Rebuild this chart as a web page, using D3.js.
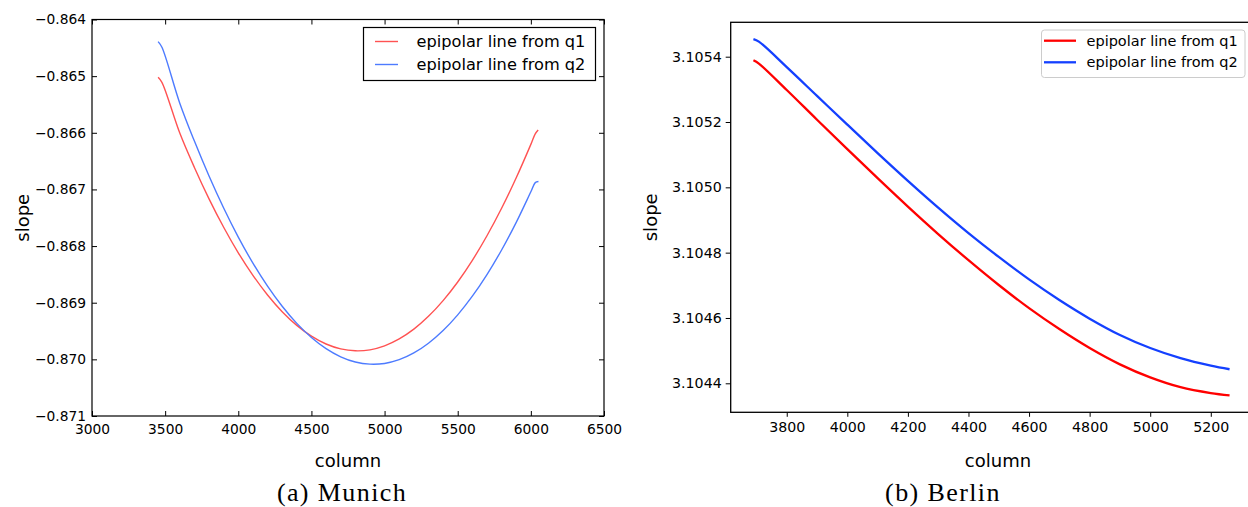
<!DOCTYPE html>
<html>
<head>
<meta charset="utf-8">
<script src="https://cdn.jsdelivr.net/npm/d3@7"></script>
<style>
  html, body { margin: 0; padding: 0; background: #fff; }
  svg { display: block; }
  text { font-family: "DejaVu Sans", sans-serif; }
</style>
</head>
<body>
<svg id="chart" width="1248" height="507"></svg>
<script>
// ---------- Data: (a) Munich ----------
const munichColumnsQ1 = [3452, 3478, 3600, 3700, 3800, 3900, 4000, 4100, 4200, 4300, 4400, 4500, 4600, 4700, 4800, 4900, 5000, 5100, 5200, 5300, 5400, 5500, 5600, 5700, 5800, 5900, 6000, 6030, 6050];
const munichSlopeQ1   = [-0.865020, -0.865110, -0.866005, -0.866612, -0.867166, -0.867668, -0.868119, -0.868517, -0.868863, -0.869158, -0.869400, -0.869590, -0.869729, -0.869815, -0.869849, -0.869832, -0.869762, -0.869640, -0.869467, -0.869241, -0.868963, -0.868634, -0.868252, -0.867818, -0.867333, -0.866795, -0.866205, -0.866018, -0.865950];
const munichColumnsQ2 = [3452, 3478, 3600, 3700, 3800, 3900, 4000, 4100, 4200, 4300, 4400, 4500, 4600, 4700, 4800, 4900, 5000, 5100, 5200, 5300, 5400, 5500, 5600, 5700, 5800, 5900, 6000, 6030, 6052];
const munichSlopeQ2   = [-0.864390, -0.864490, -0.865477, -0.866147, -0.866764, -0.867329, -0.867842, -0.868301, -0.868708, -0.869063, -0.869365, -0.869614, -0.869811, -0.869955, -0.870047, -0.870085, -0.870072, -0.870006, -0.869887, -0.869715, -0.869491, -0.869214, -0.868885, -0.868503, -0.868069, -0.867582, -0.867042, -0.866880, -0.866860];
const munichXTicks = [3000, 3500, 4000, 4500, 5000, 5500, 6000, 6500];
const munichYTicks = [-0.871, -0.870, -0.869, -0.868, -0.867, -0.866, -0.865, -0.864];

// ---------- Data: (b) Berlin ----------
const berlinColumns  = [3690, 3708, 3800, 3900, 4000, 4100, 4200, 4300, 4400, 4500, 4600, 4700, 4800, 4900, 5000, 5100, 5200, 5262];
const berlinSlopeQ1  = [3.105389, 3.105379, 3.105298, 3.105207, 3.105117, 3.105028, 3.104941, 3.104857, 3.104777, 3.104701, 3.104630, 3.104566, 3.104508, 3.104458, 3.104418, 3.104388, 3.104370, 3.104363];
const berlinSlopeQ2  = [3.105454, 3.105446, 3.105368, 3.105280, 3.105192, 3.105105, 3.105020, 3.104938, 3.104860, 3.104787, 3.104718, 3.104655, 3.104598, 3.104548, 3.104508, 3.104477, 3.104454, 3.104443];
const berlinXTicks = [3800, 4000, 4200, 4400, 4600, 4800, 5000, 5200];
const berlinYTicks = [3.1044, 3.1046, 3.1048, 3.1050, 3.1052, 3.1054];

const seriesNames = ["epipolar line from q1", "epipolar line from q2"];
const captions = ["(a) Munich", "(b) Berlin"];

const svg = d3.select("#chart");

// ================= Panel (a) Munich =================
(function () {
  const L = 92, R = 604, T = 19.5, B = 416;
  const x = d3.scaleLinear().domain([3000, 6500]).range([L, R]);
  const y = d3.scaleLinear().domain([-0.871, -0.864]).range([B, T]);
  const g = svg.append("g");
  const cols = ["#ff5252", "#4d7bff"];

  const line = d3.line().x(d => x(d[0])).y(d => y(d[1])).curve(d3.curveCatmullRom.alpha(0.5));
  const s1 = munichColumnsQ1.map((c, i) => [c, munichSlopeQ1[i]]);
  const s2 = munichColumnsQ2.map((c, i) => [c, munichSlopeQ2[i]]);
  g.append("path").datum(s1).attr("d", line).attr("fill", "none").attr("stroke", cols[0]).attr("stroke-width", 1.4);
  g.append("path").datum(s2).attr("d", line).attr("fill", "none").attr("stroke", cols[1]).attr("stroke-width", 1.4);

  const fmtY = d3.format(".3f");
  const ax = (sel) => { sel.selectAll(".domain").remove(); sel.selectAll("line").attr("stroke", "#000"); sel.selectAll("text").attr("font-size", 13.8).attr("fill", "#000").attr("font-family", "DejaVu Sans, sans-serif"); };
  g.append("g").attr("transform", `translate(0,${B})`)
    .call(d3.axisBottom(x).tickValues(munichXTicks).tickSizeInner(-5).tickSizeOuter(0).tickPadding(8).tickFormat(d3.format("d"))).call(ax);
  g.append("g").attr("transform", `translate(0,${T})`)
    .call(d3.axisTop(x).tickValues(munichXTicks).tickSizeInner(-5).tickSizeOuter(0).tickFormat("")).call(ax);
  g.append("g").attr("transform", `translate(${L},0)`)
    .call(d3.axisLeft(y).tickValues(munichYTicks).tickSizeInner(-5).tickSizeOuter(0).tickPadding(6).tickFormat(fmtY)).call(ax);
  g.append("g").attr("transform", `translate(${R},0)`)
    .call(d3.axisRight(y).tickValues(munichYTicks).tickSizeInner(-5).tickSizeOuter(0).tickFormat("")).call(ax);

  g.append("rect").attr("x", L).attr("y", T).attr("width", R - L).attr("height", B - T)
    .attr("fill", "none").attr("stroke", "#000").attr("stroke-width", 1.2);

  // legend
  const lg = g.append("g");
  lg.append("rect").attr("x", 363.5).attr("y", 27.5).attr("width", 232).attr("height", 53)
    .attr("fill", "#fff").attr("stroke", "#000").attr("stroke-width", 1.2);
  seriesNames.forEach((n, i) => {
    const yy = 41.5 + i * 23;
    lg.append("line").attr("x1", 375).attr("x2", 398).attr("y1", yy).attr("y2", yy).attr("stroke", cols[i]).attr("stroke-width", 1.4);
    lg.append("text").attr("x", 416.5).attr("y", yy + 5.5).attr("font-size", 16.2).text(n);
  });

  g.append("text").attr("x", 348).attr("y", 467).attr("text-anchor", "middle").attr("font-size", 18).text("column");
  g.append("text").attr("transform", `translate(29,${(T + B) / 2}) rotate(-90)`).attr("text-anchor", "middle").attr("font-size", 18).text("slope");
  g.append("text").attr("x", 342).attr("y", 501).attr("text-anchor", "middle")
    .attr("font-family", "Liberation Serif, serif").style("font-family", "Liberation Serif, serif")
    .attr("font-size", 26).attr("letter-spacing", 1.4).text(captions[0]);
})();

// ================= Panel (b) Berlin =================
(function () {
  const L = 730.7, R = 1265, T = 22.3, B = 412.3;
  const x = d3.scaleLinear().domain([3615, 5379]).range([L, R]);
  const y = d3.scaleLinear().domain([3.1043112, 3.1055053]).range([B, T]);
  const g = svg.append("g");
  const cols = ["#ff0000", "#1440ff"];

  const line = d3.line().x(d => x(d[0])).y(d => y(d[1])).curve(d3.curveCatmullRom.alpha(0.5));
  const s1 = berlinColumns.map((c, i) => [c, berlinSlopeQ1[i]]);
  const s2 = berlinColumns.map((c, i) => [c, berlinSlopeQ2[i]]);
  g.append("path").datum(s1).attr("d", line).attr("fill", "none").attr("stroke", cols[0]).attr("stroke-width", 2.3);
  g.append("path").datum(s2).attr("d", line).attr("fill", "none").attr("stroke", cols[1]).attr("stroke-width", 2.3);

  const ax = (sel) => { sel.selectAll(".domain").remove(); sel.selectAll("line").attr("stroke", "#000"); sel.selectAll("text").attr("font-size", 14.2).attr("fill", "#000").attr("font-family", "DejaVu Sans, sans-serif"); };
  g.append("g").attr("transform", `translate(0,${B})`)
    .call(d3.axisBottom(x).tickValues(berlinXTicks).tickSizeInner(4.5).tickSizeOuter(0).tickPadding(5).tickFormat(d3.format("d"))).call(ax);
  g.append("g").attr("transform", `translate(${L},0)`)
    .call(d3.axisLeft(y).tickValues(berlinYTicks).tickSizeInner(5).tickSizeOuter(0).tickPadding(4).tickFormat(d3.format(".4f"))).call(ax);

  g.append("rect").attr("x", L).attr("y", T).attr("width", R - L).attr("height", B - T)
    .attr("fill", "none").attr("stroke", "#000").attr("stroke-width", 1.3);

  // legend
  const lg = g.append("g");
  lg.append("rect").attr("x", 1041.5).attr("y", 30).attr("width", 203.5).attr("height", 47.5).attr("rx", 3)
    .attr("fill", "#fff").attr("stroke", "#cccccc").attr("stroke-width", 1);
  seriesNames.forEach((n, i) => {
    const yy = 40.7 + i * 21.6;
    lg.append("line").attr("x1", 1044).attr("x2", 1076).attr("y1", yy).attr("y2", yy).attr("stroke", cols[i]).attr("stroke-width", 2.3);
    lg.append("text").attr("x", 1086.5).attr("y", yy + 5).attr("font-size", 14.5).text(n);
  });

  g.append("text").attr("x", 998).attr("y", 467).attr("text-anchor", "middle").attr("font-size", 18).text("column");
  g.append("text").attr("transform", `translate(657,${(T + B) / 2}) rotate(-90)`).attr("text-anchor", "middle").attr("font-size", 18).text("slope");
  g.append("text").attr("x", 943).attr("y", 501).attr("text-anchor", "middle")
    .attr("font-family", "Liberation Serif, serif").style("font-family", "Liberation Serif, serif")
    .attr("font-size", 26).attr("letter-spacing", 1.4).text(captions[1]);
})();
</script>
</body>
</html>
